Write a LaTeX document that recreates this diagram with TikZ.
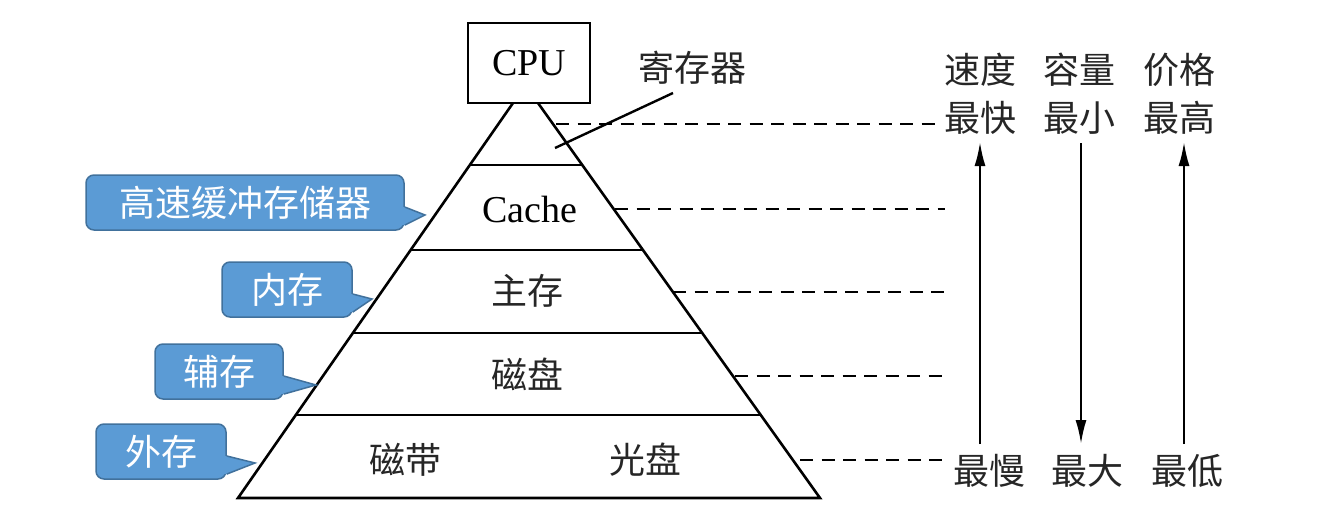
\documentclass[tikz,border=0pt]{standalone}
\usepackage{fontspec}
\setmainfont{Liberation Serif}
\newfontfamily\cjk{Noto Sans CJK SC}
\usetikzlibrary{arrows.meta,calc}
\definecolor{callfill}{HTML}{5B9BD5}
\definecolor{calldraw}{HTML}{41719C}
\begin{document}
\begin{tikzpicture}[x=1pt,y=-1pt,
  edge/.style={line width=2.6pt},
  dashline/.style={line width=2.6pt, dash pattern=on 13pt off 8.5pt},
  lbl/.style={font=\cjk\fontsize{36}{40}\selectfont, inner sep=0pt, text=black!85},
  latin/.style={font=\fontsize{38}{40}\selectfont, inner sep=0pt},
  callbox/.style={draw=calldraw, fill=callfill, line width=1.5pt, rounded corners=8pt,
    text=white, font=\cjk\fontsize{36}{40}\selectfont, minimum height=55pt, inner sep=0pt},
  ptrfill/.style={fill=callfill},
  ptredge/.style={draw=calldraw, line width=1.5pt},
  arr/.style={line width=2.2pt, -{Latex[length=24pt,width=11pt]}}
]
\useasboundingbox (0,0) rectangle (1318,527);

% CPU
\node[draw, line width=2.4pt, minimum width=122pt, minimum height=80pt, latin] (cpu) at (529,63) {CPU};

% pyramid
\coordinate (pl) at (513,103);
\coordinate (pr) at (538,103);
\coordinate (bl) at (238,498);
\coordinate (br) at (820,498);
\draw[edge, line join=miter] (pl) -- (bl) -- (br) -- (pr);
\foreach \f/\n in {0.157/1,0.372/2,0.582/3,0.790/4}{
  \draw[edge] ($(pl)!\f!(bl)$) coordinate (hl\n) -- ($(pr)!\f!(br)$) coordinate (hr\n);
}

% level labels
\node[latin] (cache) at (530,210) {Cache};
\node[lbl] (main) at (527,291) {主存};
\node[lbl] (disk) at (527,374) {磁盘};
\node[lbl] (tape) at (405,460) {磁带};
\node[lbl] (opt) at (645,460) {光盘};

% register label and pointer
\node[lbl] (reg) at (692,68) {寄存器};
\coordinate (rp) at (673,93);
\coordinate (rq) at (555,148);
\draw[line width=2.4pt] (rp) -- (rq);

% dashed lines
\coordinate (d1s) at (556,124); \coordinate (d1e) at (935,124);
\coordinate (d2s) at (615,209); \coordinate (d2e) at (945,209);
\coordinate (d3s) at (673,292); \coordinate (d3e) at (945,292);
\coordinate (d4s) at (735,376); \coordinate (d4e) at (945,376);
\coordinate (d5s) at (800,460); \coordinate (d5e) at (945,460);
\foreach \n in {1,...,5}{ \draw[dashline] (d\n s) -- (d\n e); }

% right side text
\node[lbl] (speed) at (980,70) {速度};
\node[lbl] (cap) at (1079,70) {容量};
\node[lbl] (price) at (1179,70) {价格};
\node[lbl] (fast) at (980,118) {最快};
\node[lbl] (small) at (1079,118) {最小};
\node[lbl] (high) at (1179,118) {最高};
\node[lbl] (slow) at (989,471) {最慢};
\node[lbl] (big) at (1087,471) {最大};
\node[lbl] (low) at (1187,471) {最低};

% arrows
\coordinate (a1s) at (980,444); \coordinate (a1e) at (980,142);
\coordinate (a2s) at (1081,143); \coordinate (a2e) at (1081,444);
\coordinate (a3s) at (1184,444); \coordinate (a3e) at (1184,142);
\draw[arr] (a1s) -- (a1e);
\draw[arr] (a2s) -- (a2e);
\draw[arr] (a3s) -- (a3e);

% callouts
\foreach \nm/\cx/\cy/\w/\tx/\ty/\txt in {
  c1/245/202.5/318/425/215/高速缓冲存储器,
  c2/287/289.5/130/372/299/内存,
  c3/219/371.5/128/316/385/辅存,
  c4/161/451.5/130/255/463/外存}{
  \node[callbox, minimum width=\w pt] (\nm) at (\cx,\cy) {\txt};
  \coordinate (\nm tip) at (\tx,\ty);
  \coordinate (\nm b1) at ($(\nm.north east)!0.58!(\nm.south east)$);
  \coordinate (\nm b2) at ($(\nm.north east)!0.90!(\nm.south east)$);
  \fill[ptrfill] ($(\nm b1)+(-3,0)$) -- (\nm b1) -- (\nm tip) -- (\nm b2) -- ($(\nm b2)+(-3,0)$) -- cycle;
  \draw[ptredge, line join=miter] (\nm b1) -- (\nm tip) -- (\nm b2);
}
\end{tikzpicture}
\end{document}
